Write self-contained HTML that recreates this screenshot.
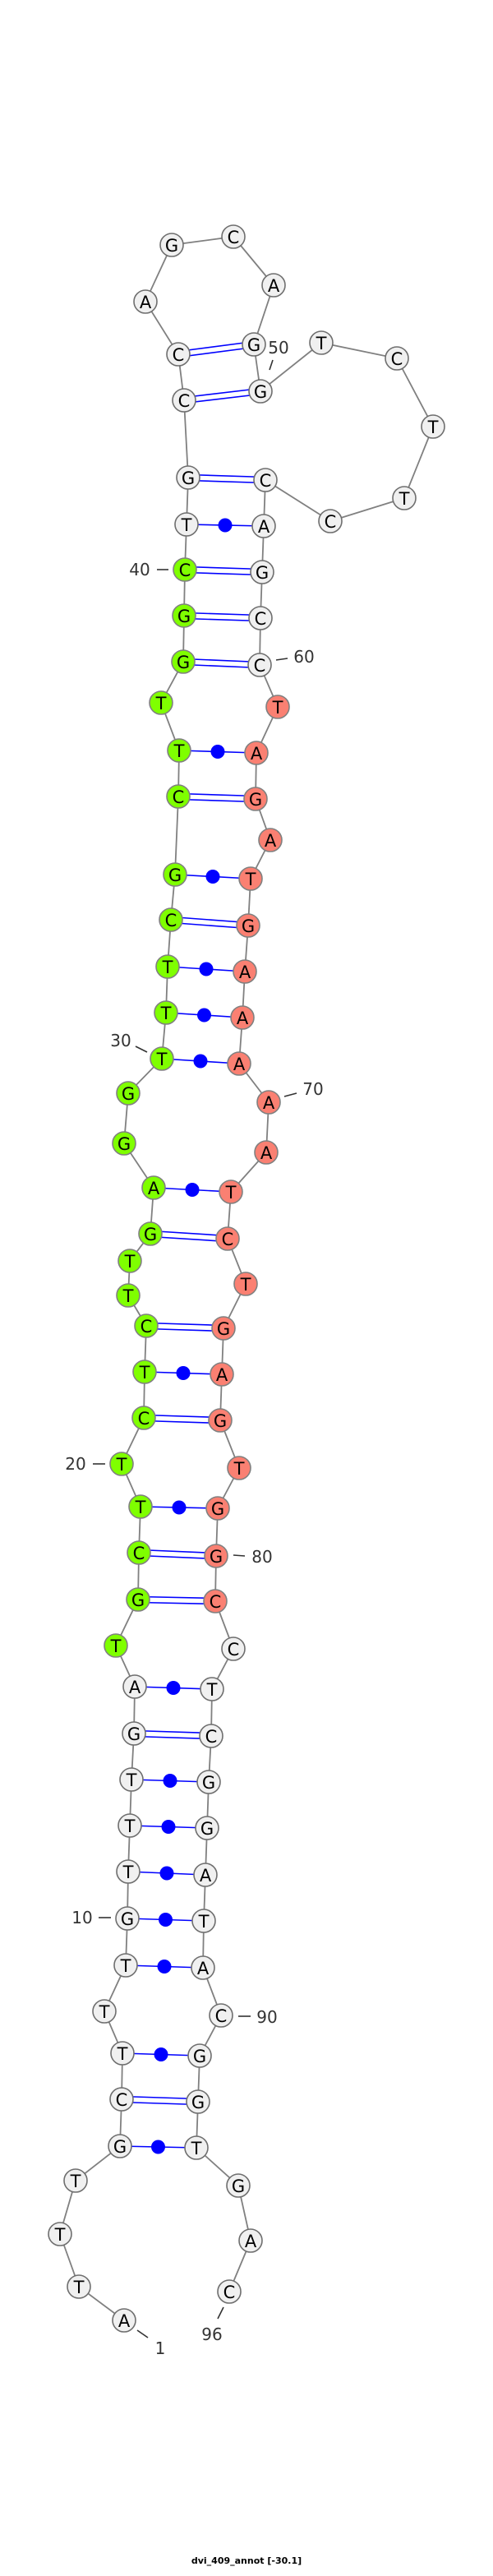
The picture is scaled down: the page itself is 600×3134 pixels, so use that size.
<!DOCTYPE html>
<html><head><meta charset="utf-8"><style>html,body{margin:0;padding:0;background:#fff}svg{display:block}</style></head>
<body>
<svg width="600" height="3134" viewBox="0 0 600 3134" xmlns="http://www.w3.org/2000/svg">
<polyline fill="none" stroke="#808080" stroke-width="1.8" points="151,2823 96,2782 73,2718 92,2653 146,2611 148,2554 149,2498 127,2447 153,2391 155,2334 156,2277 158,2221 160,2165 163,2109 164,2052 141,2002 168,1946 169,1889 171,1833 148,1781 175,1725 176,1669 178,1613 156,1576 158,1534 183,1501 187,1445 151,1391 156,1330 197,1288 202,1232 204,1176 208,1119 213,1064 217,969 218,913 196,855 223,805 224,749 225,693 227,638 229,581 224,487 217,431 177,367 209,298 284,288 333,347 309,419 317,476 391,417 483,436 527,519 492,606 402,634 323,584 321,640 319,696 317,752 316,809 338,860 312,916 311,972 329,1022 305,1069 302,1126 298,1182 295,1238 291,1294 327,1341 324,1402 281,1450 277,1507 299,1562 272,1616 270,1672 268,1728 291,1786 265,1835 263,1893 262,1948 284,2006 258,2055 257,2112 254,2168 252,2224 250,2281 248,2337 247,2394 269,2452 243,2501 241,2557 239,2613 290,2659 305,2726 279,2788"/>
<g stroke="#0000ff" stroke-width="1.6">
<!-- single pairs -->
<line x1="146" y1="2611" x2="239" y2="2613"/>
<line x1="149" y1="2498" x2="243" y2="2501"/>
<line x1="153" y1="2391" x2="247" y2="2394"/>
<line x1="155" y1="2334" x2="248" y2="2337"/>
<line x1="156" y1="2277" x2="250" y2="2281"/>
<line x1="158" y1="2221" x2="252" y2="2224"/>
<line x1="160" y1="2165" x2="254" y2="2168"/>
<line x1="164" y1="2052" x2="258" y2="2055"/>
<line x1="171" y1="1833" x2="265" y2="1835"/>
<line x1="176" y1="1669" x2="270" y2="1672"/>
<line x1="187" y1="1445" x2="281" y2="1450"/>
<line x1="197" y1="1288" x2="291" y2="1294"/>
<line x1="202" y1="1232" x2="295" y2="1238"/>
<line x1="204" y1="1176" x2="298" y2="1182"/>
<line x1="213" y1="1064" x2="305" y2="1069"/>
<line x1="218" y1="913" x2="312" y2="916"/>
<line x1="227" y1="638" x2="321" y2="640"/>
<!-- double pairs -->
<line x1="148" y1="2550.5" x2="241" y2="2553.5"/><line x1="148" y1="2557.5" x2="241" y2="2560.5"/>
<line x1="163" y1="2105.5" x2="257" y2="2108.5"/><line x1="163" y1="2112.5" x2="257" y2="2115.5"/>
<line x1="168" y1="1942.5" x2="262" y2="1944.5"/><line x1="168" y1="1949.5" x2="262" y2="1951.5"/>
<line x1="169" y1="1885.5" x2="263" y2="1889.5"/><line x1="169" y1="1892.5" x2="263" y2="1896.5"/>
<line x1="175" y1="1721.5" x2="268" y2="1724.5"/><line x1="175" y1="1728.5" x2="268" y2="1731.5"/>
<line x1="178" y1="1609.5" x2="272" y2="1612.5"/><line x1="178" y1="1616.5" x2="272" y2="1619.5"/>
<line x1="183" y1="1497.5" x2="277" y2="1503.5"/><line x1="183" y1="1504.5" x2="277" y2="1510.5"/>
<line x1="208" y1="1115.5" x2="302" y2="1122.5"/><line x1="208" y1="1122.5" x2="302" y2="1129.5"/>
<line x1="217" y1="965.5" x2="311" y2="968.5"/><line x1="217" y1="972.5" x2="311" y2="975.5"/>
<line x1="223" y1="801.5" x2="316" y2="805.5"/><line x1="223" y1="808.5" x2="316" y2="812.5"/>
<line x1="224" y1="745.5" x2="317" y2="748.5"/><line x1="224" y1="752.5" x2="317" y2="755.5"/>
<line x1="225" y1="689.5" x2="319" y2="692.5"/><line x1="225" y1="696.5" x2="319" y2="699.5"/>
<line x1="229" y1="577.5" x2="323" y2="580.5"/><line x1="229" y1="584.5" x2="323" y2="587.5"/>
<line x1="224" y1="483.5" x2="317" y2="472.5"/><line x1="224" y1="490.5" x2="317" y2="479.5"/>
<line x1="217" y1="427.5" x2="309" y2="415.5"/><line x1="217" y1="434.5" x2="309" y2="422.5"/>
</g>
<g fill="#0000ff">
<circle cx="192.5" cy="2612" r="8.5"/><circle cx="196" cy="2499.5" r="8.5"/><circle cx="200" cy="2392.5" r="8.5"/><circle cx="201.5" cy="2335.5" r="8.5"/><circle cx="203" cy="2279" r="8.5"/><circle cx="205" cy="2222.5" r="8.5"/><circle cx="207" cy="2166.5" r="8.5"/><circle cx="211" cy="2053.5" r="8.5"/><circle cx="218" cy="1834" r="8.5"/><circle cx="223" cy="1670.5" r="8.5"/><circle cx="234" cy="1447.5" r="8.5"/><circle cx="244" cy="1291" r="8.5"/><circle cx="248.5" cy="1235" r="8.5"/><circle cx="251" cy="1179" r="8.5"/><circle cx="259" cy="1066.5" r="8.5"/><circle cx="265" cy="914.5" r="8.5"/><circle cx="274" cy="639" r="8.5"/>
</g>
<g stroke="#6e6e6e" stroke-width="1.6">
<g fill="#f0f0f0">
<circle cx="151" cy="2823" r="14"/><circle cx="96" cy="2782" r="14"/><circle cx="73" cy="2718" r="14"/><circle cx="92" cy="2653" r="14"/><circle cx="146" cy="2611" r="14"/><circle cx="148" cy="2554" r="14"/><circle cx="149" cy="2498" r="14"/><circle cx="127" cy="2447" r="14"/><circle cx="153" cy="2391" r="14"/><circle cx="155" cy="2334" r="14"/><circle cx="156" cy="2277" r="14"/><circle cx="158" cy="2221" r="14"/><circle cx="160" cy="2165" r="14"/><circle cx="163" cy="2109" r="14"/><circle cx="164" cy="2052" r="14"/>
<circle cx="227" cy="638" r="14"/><circle cx="229" cy="581" r="14"/><circle cx="224" cy="487" r="14"/><circle cx="217" cy="431" r="14"/><circle cx="177" cy="367" r="14"/><circle cx="209" cy="298" r="14"/><circle cx="284" cy="288" r="14"/><circle cx="333" cy="347" r="14"/><circle cx="309" cy="419" r="14"/><circle cx="317" cy="476" r="14"/><circle cx="391" cy="417" r="14"/><circle cx="483" cy="436" r="14"/><circle cx="527" cy="519" r="14"/><circle cx="492" cy="606" r="14"/><circle cx="402" cy="634" r="14"/><circle cx="323" cy="584" r="14"/><circle cx="321" cy="640" r="14"/><circle cx="319" cy="696" r="14"/><circle cx="317" cy="752" r="14"/><circle cx="316" cy="809" r="14"/>
<circle cx="284" cy="2006" r="14"/><circle cx="258" cy="2055" r="14"/><circle cx="257" cy="2112" r="14"/><circle cx="254" cy="2168" r="14"/><circle cx="252" cy="2224" r="14"/><circle cx="250" cy="2281" r="14"/><circle cx="248" cy="2337" r="14"/><circle cx="247" cy="2394" r="14"/><circle cx="269" cy="2452" r="14"/><circle cx="243" cy="2501" r="14"/><circle cx="241" cy="2557" r="14"/><circle cx="239" cy="2613" r="14"/><circle cx="290" cy="2659" r="14"/><circle cx="305" cy="2726" r="14"/><circle cx="279" cy="2788" r="14"/>
</g>
<g fill="#7fff00" stroke="#808080">
<circle cx="141" cy="2002" r="14"/><circle cx="168" cy="1946" r="14"/><circle cx="169" cy="1889" r="14"/><circle cx="171" cy="1833" r="14"/><circle cx="148" cy="1781" r="14"/><circle cx="175" cy="1725" r="14"/><circle cx="176" cy="1669" r="14"/><circle cx="178" cy="1613" r="14"/><circle cx="156" cy="1576" r="14"/><circle cx="158" cy="1534" r="14"/><circle cx="183" cy="1501" r="14"/><circle cx="187" cy="1445" r="14"/><circle cx="151" cy="1391" r="14"/><circle cx="156" cy="1330" r="14"/><circle cx="197" cy="1288" r="14"/><circle cx="202" cy="1232" r="14"/><circle cx="204" cy="1176" r="14"/><circle cx="208" cy="1119" r="14"/><circle cx="213" cy="1064" r="14"/><circle cx="217" cy="969" r="14"/><circle cx="218" cy="913" r="14"/><circle cx="196" cy="855" r="14"/><circle cx="223" cy="805" r="14"/><circle cx="224" cy="749" r="14"/><circle cx="225" cy="693" r="14"/>
</g>
<g fill="#fa8072" stroke="#808080">
<circle cx="338" cy="860" r="14"/><circle cx="312" cy="916" r="14"/><circle cx="311" cy="972" r="14"/><circle cx="329" cy="1022" r="14"/><circle cx="305" cy="1069" r="14"/><circle cx="302" cy="1126" r="14"/><circle cx="298" cy="1182" r="14"/><circle cx="295" cy="1238" r="14"/><circle cx="291" cy="1294" r="14"/><circle cx="327" cy="1341" r="14"/><circle cx="324" cy="1402" r="14"/><circle cx="281" cy="1450" r="14"/><circle cx="277" cy="1507" r="14"/><circle cx="299" cy="1562" r="14"/><circle cx="272" cy="1616" r="14"/><circle cx="270" cy="1672" r="14"/><circle cx="268" cy="1728" r="14"/><circle cx="291" cy="1786" r="14"/><circle cx="265" cy="1835" r="14"/><circle cx="263" cy="1893" r="14"/><circle cx="262" cy="1948" r="14"/>
</g>
</g>
<g font-family="DejaVu Sans, Liberation Sans, sans-serif" font-size="21" fill="#000" text-anchor="middle">
<text x="151" y="2831">A</text><text x="96" y="2790">T</text><text x="73" y="2726">T</text><text x="92" y="2661">T</text><text x="146" y="2619">G</text><text x="148" y="2562">C</text><text x="149" y="2506">T</text><text x="127" y="2455">T</text><text x="153" y="2399">T</text><text x="155" y="2342">G</text><text x="156" y="2285">T</text><text x="158" y="2229">T</text><text x="160" y="2173">T</text><text x="163" y="2117">G</text><text x="164" y="2060">A</text><text x="141" y="2010">T</text><text x="168" y="1954">G</text><text x="169" y="1897">C</text><text x="171" y="1841">T</text><text x="148" y="1789">T</text><text x="175" y="1733">C</text><text x="176" y="1677">T</text><text x="178" y="1621">C</text><text x="156" y="1584">T</text><text x="158" y="1542">T</text><text x="183" y="1509">G</text><text x="187" y="1453">A</text><text x="151" y="1399">G</text><text x="156" y="1338">G</text><text x="197" y="1296">T</text><text x="202" y="1240">T</text><text x="204" y="1184">T</text><text x="208" y="1127">C</text><text x="213" y="1072">G</text><text x="217" y="977">C</text><text x="218" y="921">T</text><text x="196" y="863">T</text><text x="223" y="813">G</text><text x="224" y="757">G</text><text x="225" y="701">C</text><text x="227" y="646">T</text><text x="229" y="589">G</text><text x="224" y="495">C</text><text x="217" y="439">C</text><text x="177" y="375">A</text><text x="209" y="306">G</text><text x="284" y="296">C</text><text x="333" y="355">A</text><text x="309" y="427">G</text><text x="317" y="484">G</text><text x="391" y="425">T</text><text x="483" y="444">C</text><text x="527" y="527">T</text><text x="492" y="614">T</text><text x="402" y="642">C</text><text x="323" y="592">C</text><text x="321" y="648">A</text><text x="319" y="704">G</text><text x="317" y="760">C</text><text x="316" y="817">C</text><text x="338" y="868">T</text><text x="312" y="924">A</text><text x="311" y="980">G</text><text x="329" y="1030">A</text><text x="305" y="1077">T</text><text x="302" y="1134">G</text><text x="298" y="1190">A</text><text x="295" y="1246">A</text><text x="291" y="1302">A</text><text x="327" y="1349">A</text><text x="324" y="1410">A</text><text x="281" y="1458">T</text><text x="277" y="1515">C</text><text x="299" y="1570">T</text><text x="272" y="1624">G</text><text x="270" y="1680">A</text><text x="268" y="1736">G</text><text x="291" y="1794">T</text><text x="265" y="1843">G</text><text x="263" y="1901">G</text><text x="262" y="1956">C</text><text x="284" y="2014">C</text><text x="258" y="2063">T</text><text x="257" y="2120">C</text><text x="254" y="2176">G</text><text x="252" y="2232">G</text><text x="250" y="2289">A</text><text x="248" y="2345">T</text><text x="247" y="2402">A</text><text x="269" y="2460">C</text><text x="243" y="2509">G</text><text x="241" y="2565">G</text><text x="239" y="2621">T</text><text x="290" y="2667">G</text><text x="305" y="2734">A</text><text x="279" y="2796">C</text>
</g>
<g stroke="#333" stroke-width="1.6">
<line x1="191" y1="693" x2="205" y2="693"/>
<line x1="336" y1="803" x2="350" y2="801"/>
<line x1="165" y1="1273" x2="179" y2="1280"/>
<line x1="346" y1="1334" x2="361" y2="1330"/>
<line x1="113" y1="1781" x2="128" y2="1781"/>
<line x1="284" y1="1892" x2="298" y2="1893"/>
<line x1="120" y1="2333" x2="135" y2="2333"/>
<line x1="290" y1="2453" x2="305" y2="2453"/>
<line x1="167" y1="2835" x2="180" y2="2844"/>
<line x1="272" y1="2807" x2="265" y2="2821"/>
<line x1="332" y1="438" x2="328" y2="450"/>
</g>
<g font-family="DejaVu Sans, Liberation Sans, sans-serif" font-size="20" fill="#333" text-anchor="middle">
<text x="170" y="700">40</text>
<text x="370" y="806">60</text>
<text x="147" y="1273">30</text>
<text x="381" y="1332">70</text>
<text x="92" y="1788">20</text>
<text x="319" y="1901">80</text>
<text x="100" y="2340">10</text>
<text x="325" y="2461">90</text>
<text x="195" y="2864">1</text>
<text x="258" y="2847">96</text>
<text x="339" y="430">50</text>
</g>
<text x="300" y="3119" font-family="DejaVu Sans, Liberation Sans, sans-serif" font-size="11" font-weight="bold" text-anchor="middle" fill="#000">dvi_409_annot [-30.1]</text>
</svg>
</body></html>
